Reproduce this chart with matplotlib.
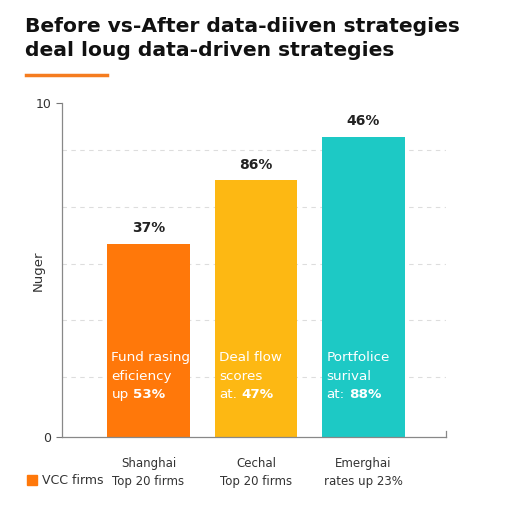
import matplotlib.pyplot as plt

# ===== DATA =====
categories = ["Shanghai\nTop 20 firms", "Cechal\nTop 20 firms", "Emerghai\nrates up 23%"]
values = [5.8, 7.7, 9.0]
top_labels = ["37%", "86%", "46%"]
inner_lines = [["Fund rasing", "eficiency"], ["Deal flow", "scores"], ["Portfolice", "surival"]]
inner_prefix = ["up", "at.", "at:"]
inner_pct = ["53%", "47%", "88%"]
colors = ["#FF780A", "#FDB813", "#1DC9C5"]
grid_levels = [1.8, 3.5, 5.2, 6.9, 8.6]

plt.rcParams["font.family"] = ["DejaVu Sans"]

fig = plt.figure(figsize=(5.12, 5.12), dpi=100)
ax = fig.add_axes([0.121, 0.146, 0.75, 0.652])

x = list(range(len(values)))
bars = ax.bar(x, values, width=0.77, color=colors, zorder=2)

# dashed guide lines
for g in grid_levels:
    ax.axhline(g, color="#dddddd", lw=0.8, ls=(0, (4, 4)), zorder=1)

# value labels above bars
for xi, v, lab in zip(x, values, top_labels):
    ax.text(xi, v + 0.25, lab, ha="center", va="bottom", fontsize=10,
            fontweight="bold", color="#222222")

ax.set_xlim(-0.805, 2.767)
ax.set_ylim(0, 10)

# text inside bars
fig.canvas.draw()
rend = fig.canvas.get_renderer()
line_y = [2.4, 1.83, 1.28]
for xi, lines, pre, pct in zip(x, inner_lines, inner_prefix, inner_pct):
    x0 = xi - 0.385 + 0.04
    for yy, line in zip(line_y, lines):
        ax.text(x0, yy, line, ha="left", va="center", fontsize=9.7, color="white")
    t = ax.text(x0, line_y[2], pre, ha="left", va="center", fontsize=9.7,
                color="white")
    bb = t.get_window_extent(renderer=rend)
    xend = ax.transData.inverted().transform((bb.x1 + 4, bb.y0))[0]
    ax.text(xend, line_y[2], pct, ha="left", va="center", fontsize=9.7,
            fontweight="bold", color="white")

ax.set_yticks([0, 10])
ax.set_yticklabels(["0", "10"], fontsize=9, color="#333333")
ax.set_xticks(x)
ax.set_xticklabels(categories, fontsize=8.5, color="#333333", linespacing=1.5)
ax.tick_params(axis="x", length=0, pad=14)
ax.tick_params(axis="y", length=4, color="#777777")
ax.set_ylabel("Nuger", fontsize=9.5, color="#333333")
ax.yaxis.set_label_coords(-0.045, 0.5)

ax.spines["top"].set_visible(False)
for s in ["left", "bottom", "right"]:
    ax.spines[s].set_color("#888888")
    ax.spines[s].set_linewidth(0.9)
ax.spines["right"].set_bounds(0, 0.2)

# title
fig.text(0.049, 0.966, "Before vs-After data-diiven strategies\ndeal loug data-driven strategies",
         ha="left", va="top", fontsize=14.6, fontweight="bold", color="#111111",
         linespacing=1.3)
fig.add_artist(plt.Line2D([0.051, 0.209], [0.853, 0.853], color="#F57C1F", lw=2.5))

# legend
fig.add_artist(plt.Rectangle((0.053, 0.052), 0.02, 0.02, color=colors[0],
                             transform=fig.transFigure))
fig.text(0.083, 0.062, "VCC firms", fontsize=9, color="#333333", va="center")

fig.savefig("out.png", dpi=100)
